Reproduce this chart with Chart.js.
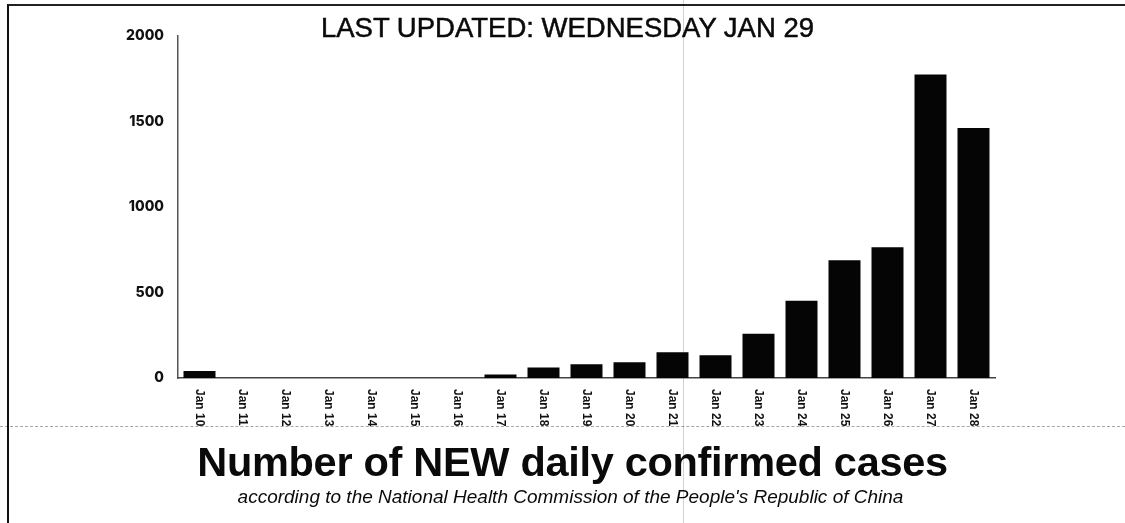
<!DOCTYPE html>
<html>
<head>
<meta charset="utf-8">
<script src="https://cdn.jsdelivr.net/npm/chart.js@4"></script>
<style>
  html, body { margin: 0; padding: 0; background: #fff; }
  #page { position: relative; width: 1125px; height: 523px; overflow: hidden; background: #fff; }
  #frame { position: absolute; left: 7px; top: 4px; width: 1125px; height: 530px;
    border-left: 2px solid #111; border-top: 2px solid #222; }
  #chart { position: absolute; left: 0; top: 0; }
  .txt { position: absolute; left: 0; width: 1125px; text-align: center; color: #0a0a0a; white-space: nowrap; }
  #top { top: 14px; left: 5px; font: 27.5px "Liberation Sans", Arial, sans-serif; line-height: 28px;
    -webkit-text-stroke: 0.5px #0a0a0a; }
  #head { top: 440px; left: 10px; font: bold 41.5px "Liberation Sans", Arial, sans-serif; line-height: 44px; letter-spacing: -0.3px; }
  #sub { top: 487px; left: 8px; font: italic 19px "Liberation Sans", Arial, sans-serif; line-height: 20px; }
  #fold { position: absolute; left: 0; top: 426px; width: 1125px; border-top: 1px dashed rgba(0,0,0,.35); }
  #crease { position: absolute; left: 683px; top: 0; height: 523px; border-left: 1px solid rgba(0,0,0,.18); }
</style>
</head>
<body>
<div id="page">
  <div id="frame"></div>
  <div id="fold"></div>
  <div id="crease"></div>
  <canvas id="chart" width="1125" height="440"></canvas>
  <div class="txt" id="top">LAST UPDATED: WEDNESDAY JAN 29</div>
  <div class="txt" id="head">Number of NEW daily confirmed cases</div>
  <div class="txt" id="sub">according to the National Health Commission of the People's Republic of China</div>
</div>
<script>
const days = ['Jan 10', 'Jan 11', 'Jan 12', 'Jan 13', 'Jan 14', 'Jan 15', 'Jan 16', 'Jan 17', 'Jan 18',
  'Jan 19', 'Jan 20', 'Jan 21', 'Jan 22', 'Jan 23', 'Jan 24', 'Jan 25', 'Jan 26', 'Jan 27', 'Jan 28'];
const newCases = [41, 0, 0, 0, 0, 0, 0, 20, 62, 80, 92, 150, 133, 259, 452, 688, 765, 1775, 1462];
const yTicks = [0, 500, 1000, 1500, 2000];

// rotulos do eixo x giram no sentido horario (de cima pra baixo), Chart.js so gira ao contrario
const dayLabels = {
  id: 'dayLabels',
  afterDraw(chart) {
    const { ctx, scales: { x } } = chart;
    ctx.save();
    ctx.fillStyle = '#111';
    ctx.font = 'bold 12px "Liberation Sans Narrow", "Liberation Sans", sans-serif';
    ctx.textAlign = 'left';
    ctx.textBaseline = 'middle';
    days.forEach((d, i) => {
      ctx.save();
      ctx.translate(x.getPixelForTick(i), x.top + 11);
      ctx.rotate(Math.PI / 2);
      ctx.fillText(d, 0, 0);
      ctx.restore();
    });
    ctx.restore();
  },
};

new Chart(document.getElementById('chart'), {
  type: 'bar',
  data: {
    labels: days,
    datasets: [{
      data: newCases,
      backgroundColor: '#050505',
      borderWidth: 0,
      categoryPercentage: 0.8,
      barPercentage: 0.93,
    }],
  },
  options: {
    responsive: false,
    animation: false,
    layout: { padding: { left: 8, top: 36, right: 130, bottom: 12 } },
    plugins: { legend: { display: false }, tooltip: { enabled: false } },
    scales: {
      x: {
        grid: { display: false, drawTicks: false },
        border: { color: '#444', width: 1.5 },
        ticks: { display: false },
        afterFit(scale) { scale.height = 50; },
      },
      y: {
        min: 0,
        max: 2000,
        afterBuildTicks(scale) { scale.ticks = yTicks.map((v) => ({ value: v })); },
        grid: { display: false, drawTicks: false },
        border: { color: '#555', width: 1.5 },
        ticks: {
          color: '#111',
          padding: 14,
          font: { family: 'Inter, "Liberation Sans", sans-serif', size: 14, weight: '800' },
          callback: (v) => String(v),
        },
        afterFit(scale) { scale.width = 170; },
      },
    },
  },
  plugins: [dayLabels],
});
</script>
</body>
</html>
